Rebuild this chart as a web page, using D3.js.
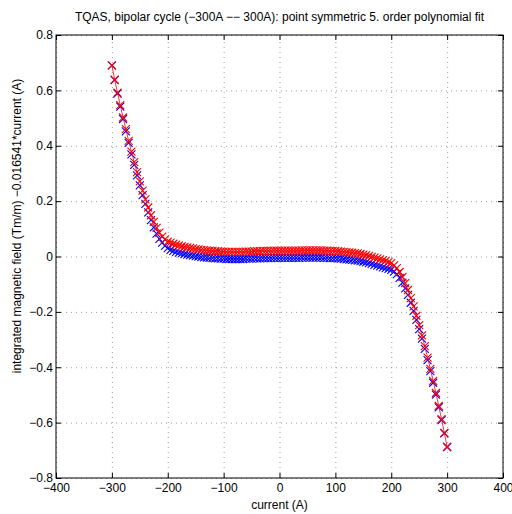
<!DOCTYPE html>
<html>
<head>
<meta charset="utf-8">
<script src="https://cdn.jsdelivr.net/npm/d3@7"></script>
<style>
body { margin: 0; background: #fff; }
text { font-family: "Liberation Sans", Arial, sans-serif; }
</style>
</head>
<body>
<script>
var w = 512;
var h = 514;
var margin = { top: 35, right: 9, bottom: 36, left: 56 };
var pw = w - margin.left - margin.right;
var ph = h - margin.top - margin.bottom;

// current (A)
var current = [-300,-295,-290,-285,-280,-275,-270,-265,-260,-255,
    -250,-245,-240,-235,-230,-225,-220,-215,-210,-205,
    -200,-195,-190,-185,-180,-175,-170,-165,-160,-155,
    -150,-145,-140,-135,-130,-125,-120,-115,-110,-105,
    -100,-95,-90,-85,-80,-75,-70,-65,-60,-55,
    -50,-45,-40,-35,-30,-25,-20,-15,-10,-5,
    0,5,10,15,20,25,30,35,40,45,
    50,55,60,65,70,75,80,85,90,95,
    100,105,110,115,120,125,130,135,140,145,
    150,155,160,165,170,175,180,185,190,195,
    200,205,210,215,220,225,230,235,240,245,
    250,255,260,265,270,275,280,285,290,295,
    300];

// red branch
var fieldRed = [0.690,0.639,0.592,0.547,0.502,0.460,0.418,0.379,0.341,0.305,
    0.271,0.238,0.206,0.177,0.149,0.125,0.103,0.086,0.072,0.062,
    0.054,0.050,0.046,0.043,0.040,0.037,0.035,0.033,0.031,0.029,
    0.027,0.026,0.024,0.023,0.022,0.021,0.020,0.019,0.019,0.018,
    0.018,0.017,0.017,0.017,0.017,0.017,0.017,0.017,0.018,0.018,
    0.018,0.019,0.019,0.019,0.020,0.020,0.020,0.020,0.021,0.021,
    0.021,0.021,0.021,0.021,0.021,0.021,0.021,0.021,0.022,0.022,
    0.022,0.022,0.022,0.022,0.022,0.022,0.021,0.021,0.020,0.020,
    0.020,0.019,0.018,0.017,0.016,0.015,0.014,0.012,0.011,0.009,
    0.007,0.005,0.002,-0.001,-0.004,-0.007,-0.010,-0.013,-0.016,-0.020,
    -0.024,-0.032,-0.042,-0.056,-0.074,-0.096,-0.121,-0.150,-0.180,-0.214,
    -0.248,-0.285,-0.324,-0.365,-0.406,-0.449,-0.493,-0.540,-0.587,-0.637,
    -0.688];

// blue branch
var fieldBlue = [0.690,0.637,0.588,0.541,0.496,0.452,0.410,0.369,0.331,0.293,
    0.257,0.222,0.190,0.159,0.131,0.105,0.083,0.064,0.050,0.038,
    0.030,0.024,0.020,0.017,0.014,0.011,0.009,0.007,0.005,0.003,
    0.001,0.000,-0.002,-0.003,-0.004,-0.005,-0.006,-0.007,-0.007,-0.008,
    -0.008,-0.009,-0.009,-0.009,-0.009,-0.009,-0.009,-0.009,-0.008,-0.008,
    -0.008,-0.007,-0.007,-0.007,-0.006,-0.006,-0.006,-0.006,-0.005,-0.005,
    -0.005,-0.005,-0.005,-0.005,-0.005,-0.005,-0.005,-0.005,-0.004,-0.004,
    -0.004,-0.004,-0.004,-0.004,-0.004,-0.004,-0.005,-0.005,-0.006,-0.006,
    -0.006,-0.007,-0.008,-0.009,-0.010,-0.011,-0.012,-0.014,-0.015,-0.017,
    -0.019,-0.021,-0.024,-0.027,-0.030,-0.033,-0.036,-0.039,-0.042,-0.045,
    -0.048,-0.055,-0.064,-0.077,-0.094,-0.115,-0.139,-0.167,-0.196,-0.229,
    -0.262,-0.297,-0.334,-0.374,-0.414,-0.456,-0.499,-0.545,-0.591,-0.639,
    -0.688];

var xTicks = [-400, -300, -200, -100, 0, 100, 200, 300, 400];
var yTicks = [-0.8, -0.6, -0.4, -0.2, 0, 0.2, 0.4, 0.6, 0.8];

var svg = d3.select("body")
    .append("svg")
    .attr("width", w)
    .attr("height", h);

var g = svg.append("g")
    .attr("transform", "translate(" + margin.left + "," + margin.top + ")");

var xScale = d3.scaleLinear().domain([-400, 400]).range([0, pw]);
var yScale = d3.scaleLinear().domain([-0.8, 0.8]).range([ph, 0]);

var fmtY = function (d) { return d === 0 ? "0" : d3.format(".1f")(d); };
var fmtX = function (d) { return d3.format("d")(d); };

// dotted grid
g.append("g")
    .attr("class", "grid")
    .attr("transform", "translate(0," + ph + ")")
    .call(d3.axisBottom(xScale).tickValues(xTicks).tickSize(-ph).tickFormat(""));
g.append("g")
    .attr("class", "grid")
    .call(d3.axisLeft(yScale).tickValues(yTicks).tickSize(-pw).tickFormat(""));
g.selectAll(".grid .domain").remove();
g.selectAll(".grid line")
    .attr("stroke", "#777")
    .attr("stroke-width", 0.7)
    .attr("stroke-dasharray", "1,4");

// data
var pts = current.map(function (c, i) {
    return { x: c, r: fieldRed[i], b: fieldBlue[i] };
});

var line = d3.line()
    .x(function (d) { return xScale(d.x); })
    .y(function (d) { return yScale(d.r); });

var cross = "M-4,-4L4,4M-4,4L4,-4";

g.append("g").selectAll("path")
    .data(pts)
    .enter()
    .append("path")
    .attr("d", cross)
    .attr("transform", function (d) { return "translate(" + xScale(d.x) + "," + yScale(d.b) + ")"; })
    .attr("stroke", "#0000ff")
    .attr("stroke-width", 1.1)
    .attr("fill", "none");

g.append("path")
    .datum(pts)
    .attr("d", line)
    .attr("fill", "none")
    .attr("stroke", "#ff0000")
    .attr("stroke-width", 0.8);

g.append("g").selectAll("path")
    .data(pts)
    .enter()
    .append("path")
    .attr("d", cross)
    .attr("transform", function (d) { return "translate(" + xScale(d.x) + "," + yScale(d.r) + ")"; })
    .attr("stroke", "#ff0000")
    .attr("stroke-width", 1.1)
    .attr("fill", "none");

// axes, ticks inside on all four sides
var xAxis = d3.axisBottom(xScale).tickValues(xTicks).tickFormat(fmtX)
    .tickSizeInner(-5).tickSizeOuter(0).tickPadding(5);
var yAxis = d3.axisLeft(yScale).tickValues(yTicks).tickFormat(fmtY)
    .tickSizeInner(-5).tickSizeOuter(0).tickPadding(3);

var xAxisGroup = g.append("g")
    .attr("transform", "translate(0," + ph + ")")
    .call(xAxis);
var yAxisGroup = g.append("g")
    .call(yAxis);
g.append("g")
    .call(d3.axisTop(xScale).tickValues(xTicks).tickFormat("").tickSizeInner(-5).tickSizeOuter(0));
g.append("g")
    .attr("transform", "translate(" + pw + ",0)")
    .call(d3.axisRight(yScale).tickValues(yTicks).tickFormat("").tickSizeInner(-5).tickSizeOuter(0));

g.selectAll(".domain").remove();
g.selectAll(".tick text")
    .attr("font-size", 12)
    .attr("font-family", "'Liberation Sans', Arial, sans-serif")
    .attr("fill", "#000");
g.selectAll(".tick line").filter(function () { return this.parentNode.parentNode.getAttribute("class") !== "grid"; })
    .attr("stroke", "#000");

g.append("rect")
    .attr("width", pw)
    .attr("height", ph)
    .attr("fill", "none")
    .attr("stroke", "#000")
    .attr("stroke-width", 1);

// labels
svg.append("text")
    .attr("x", margin.left + pw / 2)
    .attr("y", 21)
    .attr("text-anchor", "middle")
    .attr("font-size", 12)
    .text("TQAS, bipolar cycle (\u2212300A \u2212\u2212 300A): point symmetric 5. order polynomial fit");

svg.append("text")
    .attr("x", margin.left + pw / 2)
    .attr("y", 509)
    .attr("text-anchor", "middle")
    .attr("font-size", 12)
    .text("current (A)");

svg.append("text")
    .attr("transform", "translate(21,226) rotate(-90)")
    .attr("text-anchor", "middle")
    .attr("font-size", 12)
    .text("integrated magnetic field (Tm/m) \u22120.016541*current (A)");
</script>
</body>
</html>
